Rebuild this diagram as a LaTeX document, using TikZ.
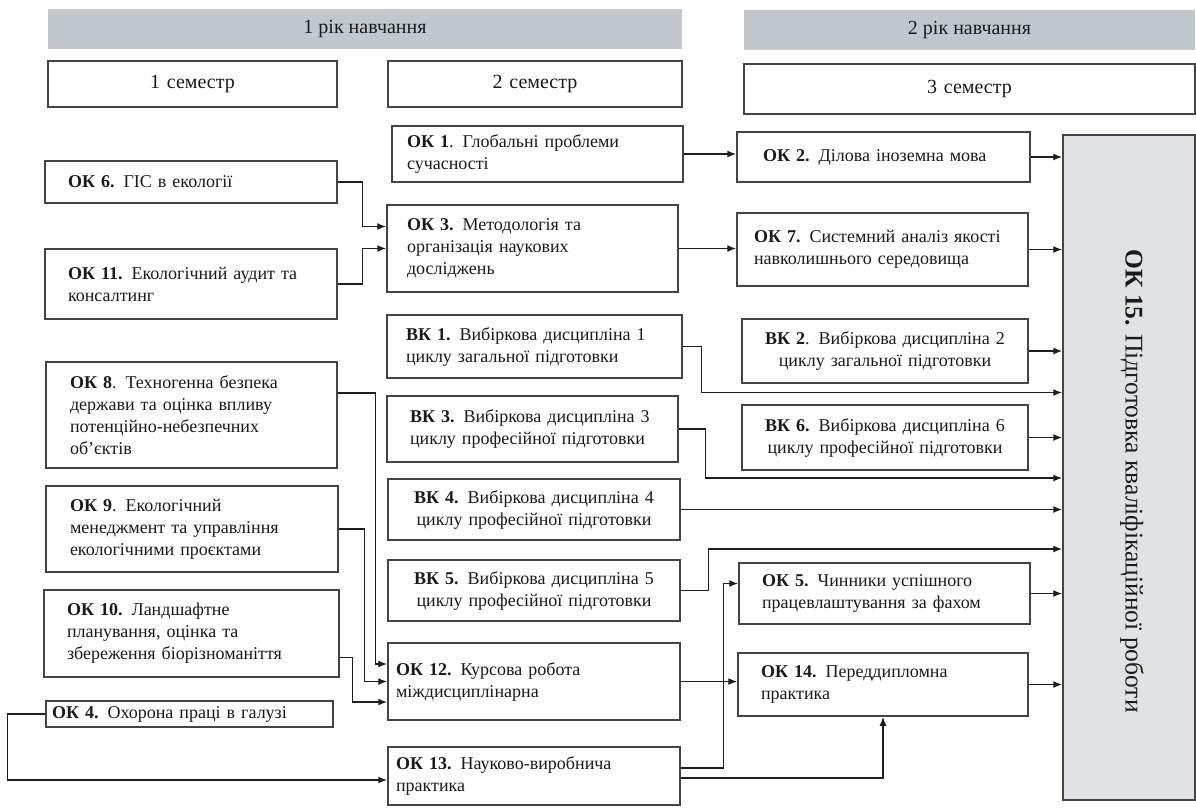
\documentclass[tikz,border=0pt]{standalone}
\usepackage{fontspec}
\setmainfont{Liberation Serif}
\usetikzlibrary{arrows.meta,calc}
\definecolor{boxc}{HTML}{444444}
\definecolor{linec}{HTML}{1E1E1E}
\definecolor{txt}{HTML}{1A1A1A}
\definecolor{barc}{HTML}{C2C7CD}
\definecolor{finc}{HTML}{E0E2E5}
\newcommand\mkbox[8][]{%
  \pgfmathsetmacro\bxw{#5-#3}%
  \pgfmathsetmacro\bxh{#6-#4}%
  \pgfmathsetmacro\bxtw{#5-#3-2*#7}%
  \pgfmathsetmacro\bxcx{(#3+#5)/2}%
  \pgfmathsetmacro\bxcy{(#4+#6)/2}%
  \node[box, minimum width=\bxw pt, minimum height=\bxh pt, text width=\bxtw pt, #1] (#2) at (\bxcx,\bxcy) {#8};}
\begin{document}
\begin{tikzpicture}[x=1pt,y=-1pt,
  box/.style={draw=boxc, line width=1.5pt, fill=white, inner sep=0pt, align=left,
    font=\fontsize{18}{22}\selectfont, text=txt},
  hdr/.style={font=\fontsize{20}{24}\selectfont},
  bar/.style={fill=barc, inner sep=0pt, font=\fontsize{20}{24}\selectfont, text=txt},
  arr/.style={draw=linec, line width=1.4pt, -{Latex[length=9pt,width=7pt]}},
]
\useasboundingbox (0,0) rectangle (1196,807);
% headers
\node[bar, minimum width=634pt, minimum height=40pt] (year1) at (365,29) {1 рік навчання};
\node[bar, minimum width=451pt, minimum height=40pt] (year2) at (969.5,30) {2 рік навчання};
\mkbox[align=center,hdr]{sem1}{48}{61}{337}{107}{10}{1 семестр}
\mkbox[align=center,hdr]{sem2}{388}{61}{682}{107}{10}{2 семестр}
\mkbox[align=center,hdr]{sem3}{744}{64}{1195}{114}{10}{3 семестр}
% left column
\mkbox{ok6}{45}{161}{337}{203}{23}{\textbf{ОК 6.} ГІС в екології}
\mkbox{ok11}{45}{249}{337}{319}{23}{\textbf{ОК 11.} Екологічний аудит та\\консалтинг}
\mkbox{ok8}{46}{362}{337}{468}{24}{\textbf{ОК 8}. Техногенна безпека\\держави та оцінка впливу\\потенційно-небезпечних\\об’єктів}
\mkbox{ok9}{46}{486}{338}{572}{24}{\textbf{ОК 9}. Екологічний\\менеджмент та управління\\екологічними проєктами}
\mkbox{ok10}{44}{590}{339}{677}{23}{\textbf{ОК 10.} Ландшафтне\\планування, оцінка та\\збереження біорізноманіття}
\mkbox{ok4}{46}{701}{333}{727}{6}{\textbf{ОК 4.} Охорона праці в галузі}
% middle column
\mkbox{ok1}{392}{126}{683}{182}{15}{\textbf{ОК 1}. Глобальні проблеми\\ сучасності}
\mkbox{ok3}{387}{205}{678}{292}{20}{\textbf{ОК 3.} Методологія та\\організація наукових\\досліджень}
\mkbox{vk1}{387}{315}{682}{378}{19}{\textbf{ВК 1.} Вибіркова дисципліна 1\\циклу загальної підготовки}
\mkbox{vk3}{387}{396}{678}{462}{23}{\textbf{ВК 3.} Вибіркова дисципліна 3\\циклу професійної підготовки}
\mkbox[align=center]{vk4}{388}{479}{680}{540}{10}{\textbf{ВК 4.} Вибіркова дисципліна 4\\циклу професійної підготовки}
\mkbox[align=center]{vk5}{388}{560}{680}{621}{10}{\textbf{ВК 5.} Вибіркова дисципліна 5\\циклу професійної підготовки}
\mkbox{ok12}{388}{643}{680}{720}{8}{\textbf{ОК 12.} Курсова робота\\міждисциплінарна}
\mkbox{ok13}{388}{747}{680}{805}{8}{\textbf{ОК 13.} Науково-виробнича\\практика}
% right column
\mkbox{ok2}{737}{132}{1030}{182}{26}{\textbf{ОК 2.} Ділова іноземна мова}
\mkbox{ok7}{737}{213}{1028}{286}{17}{\textbf{ОК 7.} Системний аналіз якості\\навколишнього середовища}
\mkbox[align=center]{vk2}{742}{319}{1028}{383}{10}{\textbf{ВК 2}. Вибіркова дисципліна 2\\циклу загальної підготовки}
\mkbox[align=center]{vk6}{742}{405}{1028}{470}{10}{\textbf{ВК 6.} Вибіркова дисципліна 6\\циклу професійної підготовки}
\mkbox{ok5}{739}{563}{1030}{624}{23}{\textbf{ОК 5.} Чинники успішного\\працевлаштування за фахом}
\mkbox{ok14}{738}{653}{1028}{716}{23}{\textbf{ОК 14.} Переддипломна\\практика}
% final box
\node[draw=boxc, line width=1.5pt, fill=finc, inner sep=0pt, minimum width=132pt, minimum height=665pt] (ok15) at (1129,467.5) {};
\node[rotate=-90, text=txt, font=\fontsize{25.5}{30}\selectfont, inner sep=0pt] (ok15t) at (1132,481) {\textbf{ОК 15.} Підготовка кваліфікаційної роботи};
% connectors
\draw[arr] (ok1.east) -- (ok1.east -| ok2.west);
\draw[arr] (ok2.east) -- (ok2.east -| ok15.west);
\draw[arr] (ok6.east) -- ++(25,0) |- ($(ok3.west)+(0,-22)$);
\draw[arr] (ok11.east) -- ++(25,0) |- (ok3.west);
\draw[arr] (ok3.east) -- (ok3.east -| ok7.west);
\draw[arr] (ok7.east) -- (ok7.east -| ok15.west);
\draw[arr] (vk1.east) -- ++(19,0) |- ($(ok15.west |- vk1.east)+(0,46)$);
\draw[arr] (vk2.east) -- (vk2.east -| ok15.west);
\draw[arr] (vk3.east) -- ++(27,0) |- ($(ok15.west |- vk3.east)+(0,49)$);
\draw[arr] (vk6.east) -- (vk6.east -| ok15.west);
\draw[arr] (vk4.east) -- (vk4.east -| ok15.west);
\draw[arr] (vk5.east) -- ++(28,0) |- ($(ok15.west |- vk5.east)+(0,-41.5)$);
\draw[arr] (ok5.east) -- (ok5.east -| ok15.west);
\draw[arr] ($(ok13.east)+(0,-8)$) -- ++(43,0) |- ($(ok5.west)+(0,-10)$);
\draw[arr] ($(ok13.east)+(0,2)$) -| (ok14.south);
\draw[arr] (ok12.east) -- (ok12.east -| ok14.west);
\draw[arr] (ok14.east) -- (ok14.east -| ok15.west);
\draw[arr] ($(ok8.east)+(0,-22)$) -- ++(38,0) |- ($(ok12.west)+(0,-17.5)$);
\draw[arr] (ok9.east) -- ++(26,0) |- (ok12.west);
\draw[arr] ($(ok10.east)+(0,24)$) -- ++(13,0) |- ($(ok12.west)+(0,20.5)$);
\draw[arr] (ok4.west) -- ++(-38,0) |- ($(ok13.west)+(0,4)$);
\end{tikzpicture}
\end{document}
